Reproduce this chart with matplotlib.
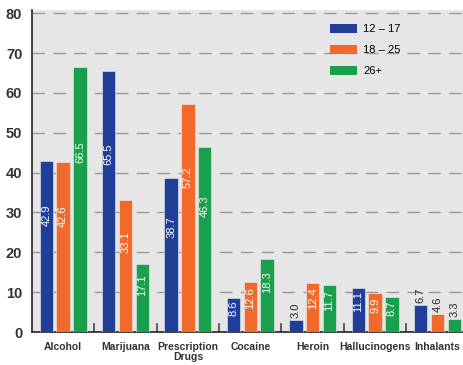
import numpy as np
import matplotlib
matplotlib.use("Agg")
import matplotlib.pyplot as plt
from matplotlib.patches import Patch

plt.rcParams['font.family'] = ['Liberation Sans', 'DejaVu Sans']

categories = ['Alcohol', 'Marijuana', 'Prescription\nDrugs', 'Cocaine',
              'Heroin', 'Hallucinogens', 'Inhalants']
groups = ['12 – 17', '18 – 25', '26+']
age_12_17 = [42.9, 65.5, 38.7, 8.6, 3.0, 11.1, 6.7]
age_18_25 = [42.6, 33.1, 57.2, 12.6, 12.4, 9.9, 4.6]
age_26_up = [66.5, 17.1, 46.3, 18.3, 11.7, 8.7, 3.3]
colors = ['#213f98', '#f26a2b', '#1aa04c']

fig = plt.figure(figsize=(4.63, 3.65), dpi=100)
ax = fig.add_axes([32 / 463, 33 / 365, 1 - 32 / 463, 322 / 365])
ax.set_facecolor('#e6e6e6')

x = np.arange(len(categories))
offsets = [-0.27, 0.0, 0.27]
width = 0.215

for series, off, col in zip([age_12_17, age_18_25, age_26_up], offsets, colors):
    ax.bar(x + off, series, width, color=col, edgecolor='#f0f0f0', linewidth=0.4, zorder=3)
    for xi, v in zip(x, series):
        if v > 7:
            ax.text(xi + off, v * 0.68, f'{v:.1f}', rotation=90, ha='center', va='center',
                    color='white', fontsize=8, zorder=4)
        else:
            ax.text(xi + off, v + 0.5, f'{v:.1f}', rotation=90, ha='center', va='bottom',
                    color='#222222', fontsize=8, zorder=4)

ax.set_xlim(-0.5, 6.41)
ax.set_ylim(0, 80.8)
ax.set_yticks(range(0, 81, 10))
ax.yaxis.grid(True, color='#9a9a9a', linestyle=(0, (9, 6)), linewidth=1)
ax.set_axisbelow(True)

ax.set_xticks(x)
ax.set_xticklabels(categories, fontsize=7.5, fontweight='bold', color='#333333',
                   linespacing=1.0)
ax.tick_params(axis='x', length=0, pad=7)
ax.tick_params(axis='y', length=0, pad=7, labelsize=10.5, labelcolor='#333333')
for lbl in ax.get_yticklabels():
    lbl.set_fontweight('bold')

# group separators on the baseline
for b in x[:-1] + 0.5:
    ax.plot([b, b], [0, 2], color='#444444', linewidth=1.2, zorder=2)

for s in ['top', 'right']:
    ax.spines[s].set_visible(False)
ax.spines['left'].set_color('#222222')
ax.spines['bottom'].set_color('#222222')
ax.spines['left'].set_linewidth(1.2)
ax.spines['bottom'].set_linewidth(1.2)

handles = [Patch(facecolor=c, edgecolor='none') for c in colors]
ax.legend(handles, groups, loc='upper left', bbox_to_anchor=(330 / 463, 1 - 24 / 365),
          bbox_transform=fig.transFigure, frameon=False, fontsize=8,
          handlelength=2.4, handleheight=0.9, labelspacing=0.95, handletextpad=0.6,
          borderpad=0, borderaxespad=0)

fig.savefig('out.png', dpi=100)
